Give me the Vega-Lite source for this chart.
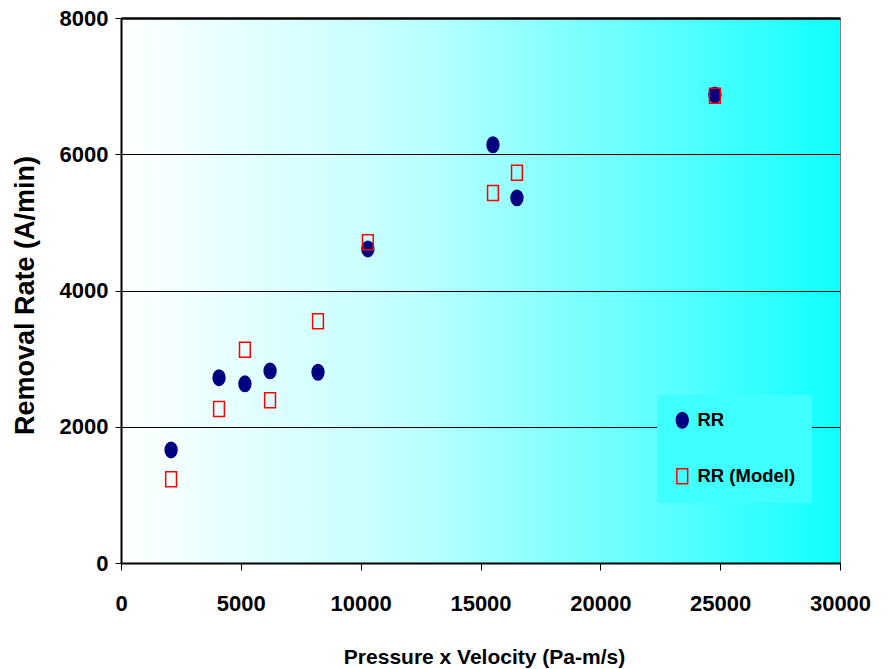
{
  "$schema": "https://vega.github.io/schema/vega-lite/v6.json",
  "width": 719,
  "height": 545,
  "autosize": {"type": "none"},
  "padding": {"left": 121, "top": 18, "right": 56, "bottom": 106},
  "background": "white",
  "config": {
    "view": {
      "fill": {"gradient": "linear", "x1": 0, "y1": 0, "x2": 1, "y2": 0, "stops": [{"offset": 0, "color": "#ffffff"}, {"offset": 0.4, "color": "#c0ffff"}, {"offset": 0.74, "color": "#60ffff"}, {"offset": 1, "color": "#10ffff"}]},
      "stroke": "#808080",
      "strokeWidth": 1
    },
    "font": "Liberation Sans"
  },
  "data": {
    "values": [
      {"pv": 2090, "rate": 1660, "series": "RR"},
      {"pv": 4090, "rate": 2720, "series": "RR"},
      {"pv": 5170, "rate": 2630, "series": "RR"},
      {"pv": 6220, "rate": 2820, "series": "RR"},
      {"pv": 8220, "rate": 2800, "series": "RR"},
      {"pv": 10300, "rate": 4610, "series": "RR"},
      {"pv": 15520, "rate": 6140, "series": "RR"},
      {"pv": 16520, "rate": 5360, "series": "RR"},
      {"pv": 24780, "rate": 6870, "series": "RR"},
      {"pv": 2090, "rate": 1230, "series": "RR (Model)"},
      {"pv": 4090, "rate": 2260, "series": "RR (Model)"},
      {"pv": 5170, "rate": 3130, "series": "RR (Model)"},
      {"pv": 6220, "rate": 2390, "series": "RR (Model)"},
      {"pv": 8220, "rate": 3550, "series": "RR (Model)"},
      {"pv": 10300, "rate": 4710, "series": "RR (Model)"},
      {"pv": 15520, "rate": 5430, "series": "RR (Model)"},
      {"pv": 16520, "rate": 5730, "series": "RR (Model)"},
      {"pv": 24780, "rate": 6860, "series": "RR (Model)"}
    ]
  },
  "mark": {"type": "point", "filled": true, "size": 225, "strokeWidth": 1.5, "opacity": 1},
  "encoding": {
    "x": {
      "field": "pv", "type": "quantitative",
      "scale": {"domain": [0, 30000], "nice": false, "zero": true},
      "axis": {
        "values": [0, 5000, 10000, 15000, 20000, 25000, 30000],
        "format": "d",
        "grid": false,
        "domainColor": "#000", "domainWidth": 2,
        "tickColor": "#000", "tickSize": 7, "tickWidth": 1,
        "labelFont": "Liberation Sans", "labelFontWeight": "bold", "labelFontSize": 22, "labelColor": "#000",
        "labelPadding": 23, "labelFlush": false,
        "title": "Pressure x Velocity (Pa-m/s)",
        "titleFont": "Liberation Sans", "titleFontWeight": "bold", "titleFontSize": 21, "titleColor": "#000",
        "titleX": 363, "titleY": 100, "titleBaseline": "alphabetic", "titleAlign": "center"
      }
    },
    "y": {
      "field": "rate", "type": "quantitative",
      "scale": {"domain": [0, 8000], "nice": false},
      "axis": {
        "values": [0, 2000, 4000, 6000, 8000],
        "format": "d",
        "grid": true, "gridColor": "#000",
        "gridWidth": {"condition": {"test": "datum.value === 8000", "value": 2.5}, "value": 1},
        "domainColor": "#000", "domainWidth": 2,
        "tickColor": "#000", "tickSize": 6, "tickWidth": 1,
        "labelFont": "Liberation Sans", "labelFontWeight": "bold", "labelFontSize": 22, "labelColor": "#000",
        "labelPadding": 7, "labelFlush": false,
        "title": "Removal Rate (A/min)",
        "titleFont": "Liberation Sans", "titleFontWeight": "bold", "titleFontSize": 27, "titleColor": "#000",
        "titleX": -88, "titleY": 277, "titleAngle": -90, "titleBaseline": "alphabetic", "titleAlign": "center"
      }
    },
    "shape": {
      "field": "series", "type": "nominal",
      "scale": {"domain": ["RR", "RR (Model)"], "range": ["M-0.79,0A0.79,1.03,0,1,1,0.79,0A0.79,1.03,0,1,1,-0.79,0Z", "M-0.72,-1L0.72,-1L0.72,1L-0.72,1Z"]},
      "legend": {
        "title": null, "orient": "none", "legendX": 536, "legendY": 377,
        "padding": 16,
        "fillColor": "#40ffff",
        "strokeColor": null,
        "labelFont": "Liberation Sans", "labelFontSize": 18.5, "labelFontWeight": "bold", "labelColor": "#000",
        "symbolSize": 225, "symbolStrokeWidth": 1.5, "rowPadding": 34, "labelOffset": 6
      }
    },
    "fill": {
      "field": "series", "type": "nominal",
      "scale": {"domain": ["RR", "RR (Model)"], "range": ["#000080", "transparent"]}
    },
    "stroke": {
      "field": "series", "type": "nominal",
      "scale": {"domain": ["RR", "RR (Model)"], "range": ["#000080", "#ff0000"]}
    }
  }
}
